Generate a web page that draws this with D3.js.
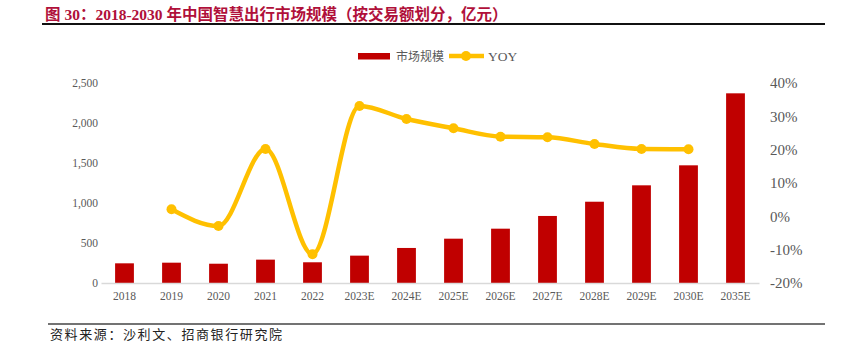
<!DOCTYPE html>
<html><head><meta charset="utf-8">
<script src="https://cdn.jsdelivr.net/npm/d3@7"></script>
<style>body{margin:0;background:#fff}svg{display:block}</style>
</head><body>
<script>
const categories = ["2018","2019","2020","2021","2022","2023E","2024E","2025E","2026E","2027E","2028E","2029E","2030E","2035E"];
const marketSize = [246,254,241,292,259,342,438,554,679,838,1016,1221,1471,2371];
const yoy = [null,2.1,-2.9,20.2,-11.4,33.1,29.2,26.4,23.9,23.7,21.7,20.2,20.1,null];
const leftTicks = [0,500,1000,1500,2000,2500];
const rightTicks = [-20,-10,0,10,20,30,40];

const W=848,H=349;
const svg=d3.select("body").append("svg").attr("width",W).attr("height",H);
const serif="'Liberation Serif','Times New Roman',serif";
const cjk="'Liberation Serif','Noto Sans CJK SC',sans-serif";

// title
svg.append("text").attr("x",45).attr("y",20).attr("font-family",cjk).attr("font-weight","bold")
  .attr("font-size",15.5).attr("fill","#B0103A").text("图 30：2018-2030 年中国智慧出行市场规模（按交易额划分，亿元）");
svg.append("line").attr("x1",42).attr("x2",825).attr("y1",24).attr("y2",24).attr("stroke","#111").attr("stroke-width",2);

const x=d3.scaleBand().domain(categories).range([101,759]).paddingInner(0.6).paddingOuter(0.3);
const yL=d3.scaleLinear().domain([0,2500]).range([283,83]);
const yR=d3.scaleLinear().domain([-20,40]).range([283,83]);

// left axis labels
const gl=svg.append("g").attr("transform","translate(98,0)")
  .call(d3.axisLeft(yL).tickValues(leftTicks).tickSize(0).tickPadding(0).tickFormat(d3.format(",")));
gl.select(".domain").remove();
gl.selectAll("text").attr("font-family",serif).attr("font-size",11.5).attr("fill","#595959");

const gr=svg.append("g").attr("transform","translate(770,0)")
  .call(d3.axisRight(yR).tickValues(rightTicks).tickSize(0).tickPadding(0).tickFormat(d=>d+"%"));
gr.select(".domain").remove();
gr.selectAll("text").attr("font-family",serif).attr("font-size",15).attr("fill","#595959");

// bars
svg.append("g").selectAll("rect").data(categories).join("rect")
  .attr("x",d=>x(d)).attr("width",x.bandwidth())
  .attr("y",(d,i)=>yL(marketSize[i])).attr("height",(d,i)=>yL(0)-yL(marketSize[i]))
  .attr("fill","#C00000");

// x axis
const gx=svg.append("g").attr("transform","translate(0,283)")
  .call(d3.axisBottom(x).tickSize(0).tickPadding(9));
gx.select(".domain").attr("stroke","#D9D9D9").attr("stroke-width",1.5);
gx.selectAll("text").attr("font-family",serif).attr("font-size",11.5).attr("fill","#595959");

// line
const pts=categories.map((c,i)=>({c,v:yoy[i]})).filter(d=>d.v!=null);
const line=d3.line().x(d=>x(d.c)+x.bandwidth()/2).y(d=>yR(d.v)).curve(d3.curveMonotoneX);
svg.append("path").datum(pts).attr("d",line).attr("fill","none").attr("stroke","#FFC000").attr("stroke-width",4.5);
svg.append("g").selectAll("circle").data(pts).join("circle")
  .attr("cx",d=>x(d.c)+x.bandwidth()/2).attr("cy",d=>yR(d.v)).attr("r",5).attr("fill","#FFC000");

// legend
const lg=svg.append("g");
lg.append("rect").attr("x",358).attr("y",53).attr("width",32).attr("height",6.5).attr("fill","#C00000");
lg.append("text").attr("x",396).attr("y",60.5).attr("font-family","'Noto Sans CJK SC',sans-serif").attr("font-size",12).attr("fill","#595959").text("市场规模");
lg.append("line").attr("x1",449).attr("x2",484).attr("y1",56).attr("y2",56).attr("stroke","#FFC000").attr("stroke-width",4.5);
lg.append("circle").attr("cx",466).attr("cy",56).attr("r",5).attr("fill","#FFC000");
lg.append("text").attr("x",488).attr("y",61).attr("font-family",serif).attr("font-size",13.5).attr("fill","#595959").text("YOY");

// source
svg.append("line").attr("x1",48).attr("x2",825).attr("y1",324).attr("y2",324).attr("stroke","#444").attr("stroke-width",1.5);
svg.append("text").attr("x",50).attr("y",339).attr("font-family","'Noto Sans CJK SC',sans-serif").attr("font-size",13).attr("letter-spacing",1.6).attr("fill","#222").text("资料来源：沙利文、招商银行研究院");
</script>
</body></html>
